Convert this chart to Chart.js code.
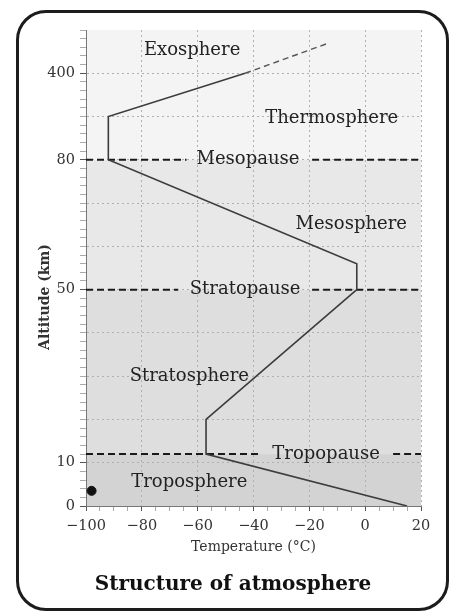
<!DOCTYPE html>
<html>
<head>
<meta charset="utf-8">
<script src="https://cdn.jsdelivr.net/npm/chart.js@4.4.0/dist/chart.umd.min.js"></script>
<style>
  html, body { margin: 0; padding: 0; background: #fff; }
  #wrap { position: relative; width: 450px; height: 611px; overflow: hidden; }
  #atmosphereChart { position: absolute; left: 0; top: 0; }
  #frame {
    position: absolute; left: 16px; top: 10px; width: 433px; height: 601px;
    box-sizing: border-box; border: 3px solid #1c1c1c; border-radius: 30px;
    pointer-events: none;
  }
</style>
</head>
<body>
<div id="wrap">
  <canvas id="atmosphereChart" width="450" height="611"></canvas>
  <div id="frame"></div>
</div>
<script>
// altitude axis is broken: 10 km per grid step up to 80 km, 160 km per step above
const axisKm = [0, 80, 560];
const axisStep = [0, 8, 11];

const xTicks = [-100, -80, -60, -40, -20, 0, 20];
const yTicks = [0, 10, 50, 80, 400];
const yGrid = [0, 10, 20, 30, 40, 50, 60, 70, 80, 240, 400];

// temperature profile (°C vs km)
const profileTemp = [15, -57, -57, -3, -3, -92, -92, -43];
const profileAlt = [0, 12, 20, 50, 56, 80, 240, 400];
const exoTemp = [-43, -13];
const exoAlt = [400, 512];

// pause lines, with the gap left for their label
const pauseNames = ['Tropopause', 'Stratopause', 'Mesopause'];
const pauseAlt = [12, 50, 80];
const pauseLabelTemp = [-14, -43, -42];
const pauseGapFrom = [-37, -67, -64];
const pauseGapTo = [10, -19, -19];

const layerNames = ['Troposphere', 'Stratosphere', 'Mesosphere', 'Thermosphere', 'Exosphere'];
const layerTemp = [-63, -63, -5, -12, -62];
const layerAlt = [5.5, 30, 65, 235, 486];

const dotTemp = [-98];
const dotAlt = [3.5];

const bandTops = [12, 50, 80, 560];
const bandColors = ['#d3d3d3', '#dedede', '#e8e8e8', '#f4f4f4'];

function toStep(km) {
    for (let i = 1; i < axisKm.length; i++) {
        if (km <= axisKm[i] || i === axisKm.length - 1) {
            const f = (km - axisKm[i - 1]) / (axisKm[i] - axisKm[i - 1]);
            return axisStep[i - 1] + f * (axisStep[i] - axisStep[i - 1]);
        }
    }
}

function fromStep(s) {
    for (let i = 1; i < axisStep.length; i++) {
        if (s <= axisStep[i] || i === axisStep.length - 1) {
            const f = (s - axisStep[i - 1]) / (axisStep[i] - axisStep[i - 1]);
            return axisKm[i - 1] + f * (axisKm[i] - axisKm[i - 1]);
        }
    }
}

class BrokenScale extends Chart.LinearScale {
    static id = 'broken';
    static defaults = Chart.LinearScale.defaults;

    buildTicks() {
        const ticks = [];
        for (let v = 0; v < 80; v += 2) ticks.push({ value: v });
        for (let v = 80; v <= 560; v += 32) ticks.push({ value: v });
        return ticks;
    }
    getPixelForValue(value) {
        if (value === null || isNaN(value)) return NaN;
        return this.getPixelForDecimal(toStep(value) / toStep(this.max));
    }
    getValueForPixel(pixel) {
        return fromStep(this.getDecimalForPixel(pixel) * toStep(this.max));
    }
}
Chart.register(BrokenScale);

const pts = (xs, ys) => xs.map((t, i) => ({ x: t, y: ys[i] }));
const minus = v => (v < 0 ? '\u2212' + Math.abs(v) : String(v));
const serif = '"DejaVu Serif", serif';

const datasets = [
    {
        data: pts(profileTemp, profileAlt),
        showLine: true, borderColor: '#3c3c3c', borderWidth: 1.6,
        pointRadius: 0, tension: 0
    },
    {
        data: pts(exoTemp, exoAlt),
        showLine: true, borderColor: '#555', borderWidth: 1.4, borderDash: [6, 4],
        pointRadius: 0
    },
    {
        data: pts(dotTemp, dotAlt),
        backgroundColor: '#111', borderColor: '#111', pointRadius: 4.5
    }
];

pauseAlt.forEach((alt, i) => {
    datasets.push({
        data: [
            { x: -100, y: alt }, { x: pauseGapFrom[i], y: alt },
            { x: pauseGapFrom[i], y: null },
            { x: pauseGapTo[i], y: alt }, { x: 20, y: alt }
        ],
        showLine: true, spanGaps: false, borderColor: '#1a1a1a', borderWidth: 2,
        borderDash: [7, 4], pointRadius: 0
    });
});

const bandPlugin = {
    id: 'bands',
    beforeDraw(chart) {
        const { ctx, chartArea: a, scales: { y } } = chart;
        ctx.save();
        let bottom = 0;
        bandTops.forEach((top, i) => {
            const y1 = y.getPixelForValue(top);
            const y2 = y.getPixelForValue(bottom);
            ctx.fillStyle = bandColors[i];
            ctx.fillRect(a.left, y1, a.right - a.left, y2 - y1);
            bottom = top;
        });
        ctx.restore();
    }
};

const labelPlugin = {
    id: 'layerLabels',
    afterDatasetsDraw(chart) {
        const { ctx, chartArea: a, scales: { x, y } } = chart;
        ctx.save();
        ctx.font = '18px ' + serif;
        ctx.fillStyle = '#222';
        ctx.textAlign = 'center';
        ctx.textBaseline = 'middle';
        layerNames.forEach((name, i) => {
            ctx.fillText(name, x.getPixelForValue(layerTemp[i]), y.getPixelForValue(layerAlt[i]));
        });
        pauseNames.forEach((name, i) => {
            ctx.fillText(name, x.getPixelForValue(pauseLabelTemp[i]), y.getPixelForValue(pauseAlt[i]));
        });

        // y axis title sits a little below the middle of the axis
        ctx.translate(45, a.bottom - 209);
        ctx.rotate(-Math.PI / 2);
        ctx.font = 'bold 14px ' + serif;
        ctx.fillStyle = '#333';
        ctx.fillText('Altitude (km)', 0, 0);
        ctx.restore();
    }
};

new Chart(document.getElementById('atmosphereChart'), {
    type: 'scatter',
    data: { datasets },
    options: {
        responsive: false,
        animation: false,
        layout: { padding: { left: 45, right: 29, top: 30, bottom: 0 } },
        plugins: {
            legend: { display: false },
            tooltip: { enabled: false },
            title: {
                display: true,
                position: 'bottom',
                text: 'Structure of atmosphere',
                color: '#111',
                font: { family: serif, size: 20, weight: 'bold' },
                padding: { top: 12, bottom: 14 }
            }
        },
        scales: {
            x: {
                type: 'linear',
                min: -100,
                max: 20,
                afterBuildTicks: scale => {
                    const ticks = [];
                    for (let v = -100; v <= 20; v += 5) ticks.push({ value: v });
                    scale.ticks = ticks;
                },
                afterFit: scale => { scale.height = 55; },
                ticks: {
                    autoSkip: false,
                    maxRotation: 0,
                    padding: 7,
                    color: '#333',
                    font: { family: serif, size: 14.5 },
                    callback: v => (xTicks.includes(v) ? minus(v) : '')
                },
                grid: {
                    color: c => (c.tick && xTicks.includes(c.tick.value) ? '#b0b0b0' : 'transparent'),
                    tickColor: c => (c.tick && xTicks.includes(c.tick.value) ? '#555' : '#aaa'),
                    tickLength: 5
                },
                border: { display: true, color: '#777', dash: [2, 3] },
                title: {
                    display: true,
                    text: 'Temperature (°C)',
                    color: '#333',
                    font: { family: serif, size: 14 },
                    padding: { top: 0, bottom: 5 }
                }
            },
            y: {
                type: 'broken',
                min: 0,
                max: 560,
                afterFit: scale => { scale.width = 41; },
                ticks: {
                    autoSkip: false,
                    padding: 5,
                    color: '#333',
                    font: { family: serif, size: 14.5 },
                    callback: v => (yTicks.includes(v) ? String(v) : '')
                },
                grid: {
                    color: c => (c.tick && yGrid.includes(c.tick.value) ? '#b0b0b0' : 'transparent'),
                    tickColor: c => (c.tick && yTicks.includes(c.tick.value) ? '#555' : '#aaa'),
                    tickLength: 6
                },
                border: { display: true, color: '#777', dash: [2, 3] }
            }
        }
    },
    plugins: [bandPlugin, labelPlugin]
});
</script>
</body>
</html>
